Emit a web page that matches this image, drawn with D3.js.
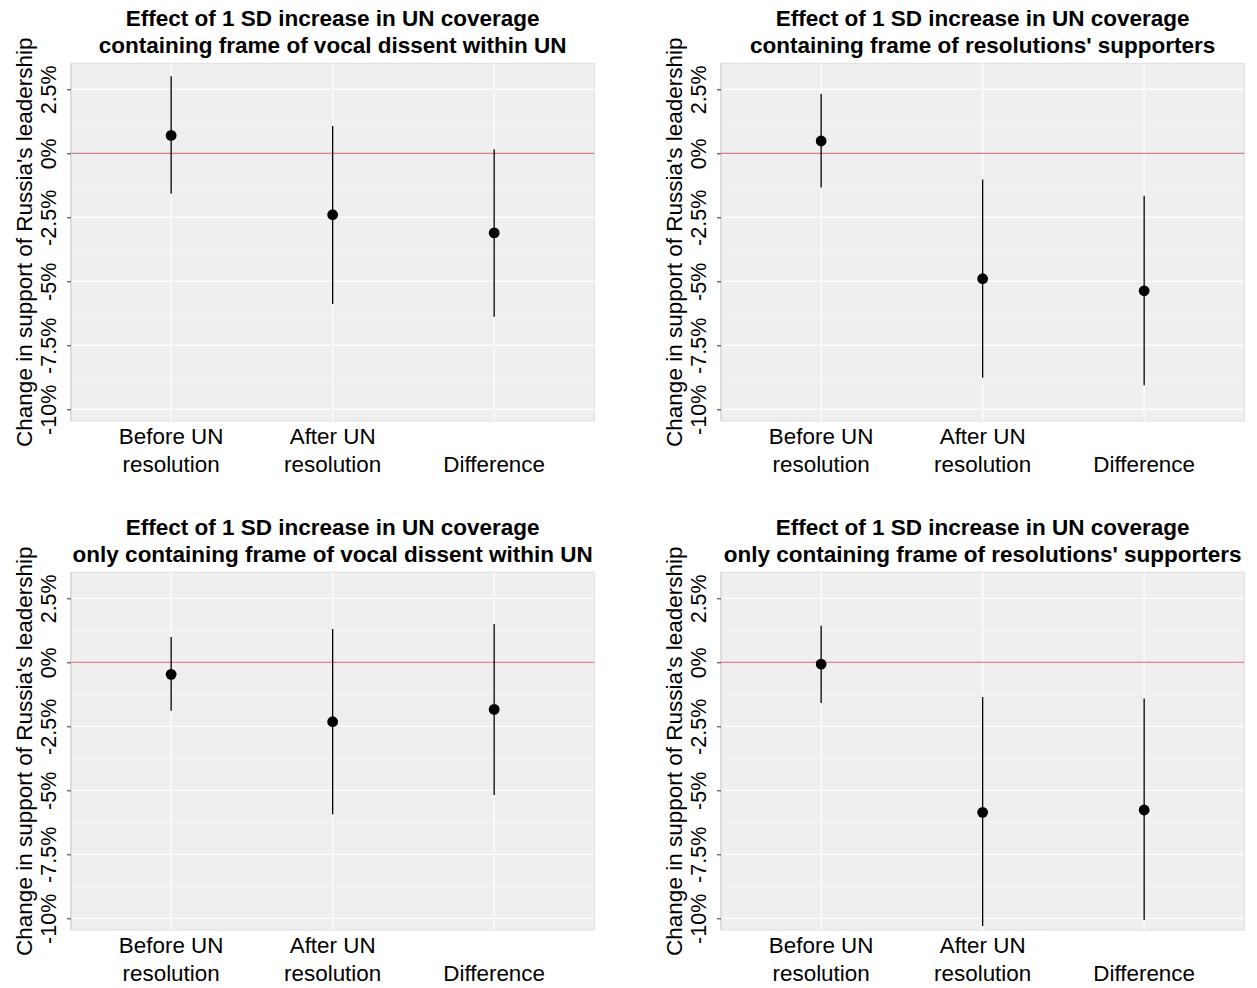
<!DOCTYPE html>
<html>
<head>
<meta charset="utf-8">
<script src="https://cdn.jsdelivr.net/npm/d3@7"></script>
<style>
  body { margin: 0; background: #fff; }
  text { font-family: "Liberation Sans", Arial, sans-serif; fill: #000; }
</style>
</head>
<body>
<div id="chart"></div>
<script>
// categories on the x axis (each split in display lines)
var categories = ["Before UN resolution", "After UN resolution", "Difference"];
var categoryLines = [["Before UN", "resolution"], ["After UN", "resolution"], ["", "Difference"]];

var titles = [
    ["Effect of 1 SD increase in UN coverage", "containing frame of vocal dissent within UN"],
    ["Effect of 1 SD increase in UN coverage", "containing frame of resolutions' supporters"],
    ["Effect of 1 SD increase in UN coverage", "only containing frame of vocal dissent within UN"],
    ["Effect of 1 SD increase in UN coverage", "only containing frame of resolutions' supporters"]
];

// point estimates and confidence bounds (percent), one row per panel
var estimates = [
    [0.70, -2.40, -3.11],
    [0.48, -4.90, -5.37],
    [-0.47, -2.32, -1.84],
    [-0.07, -5.86, -5.77]
];
var lower = [
    [-1.58, -5.89, -6.38],
    [-1.34, -8.77, -9.06],
    [-1.89, -5.94, -5.18],
    [-1.59, -10.30, -10.07]
];
var upper = [
    [3.01, 1.07, 0.16],
    [2.32, -1.02, -1.66],
    [0.99, 1.30, 1.50],
    [1.43, -1.36, -1.41]
];

var yTicks = [2.5, 0, -2.5, -5, -7.5, -10];
var yMinor = [1.25, -1.25, -3.75, -6.25, -8.75];
var yLabel = "Change in support of Russia's leadership";

var width = 1257, height = 988;
var panelW = 523.3, panelH = 357.7;
var lefts = [71, 721], tops = [63.3, 572.3];
var zeroColors = ["#c4615f", "#e05f5f"];

var svg = d3.select("#chart").append("svg")
    .attr("width", width)
    .attr("height", height);

var x = d3.scalePoint().domain(categories).range([0, panelW]).padding(0.62);
var y = d3.scaleLinear().domain([-10.457, 3.516]).range([panelH, 0]);

titles.forEach(function (title, i) {
    var col = i % 2, row = Math.floor(i / 2);
    var g = svg.append("g")
        .attr("transform", "translate(" + lefts[col] + "," + tops[row] + ")");

    // panel background
    g.append("rect")
        .attr("width", panelW)
        .attr("height", panelH)
        .style("fill", "#efefef")
        .style("stroke", "#dedede")
        .style("stroke-width", 1);

    // minor grid
    g.selectAll(".minor").data(yMinor).enter().append("line")
        .attr("x1", 0).attr("x2", panelW)
        .attr("y1", function (d) { return y(d); })
        .attr("y2", function (d) { return y(d); })
        .style("stroke", "#f9f9f9")
        .style("stroke-width", 0.8);

    // major grid
    g.selectAll(".major").data(yTicks).enter().append("line")
        .attr("x1", 0).attr("x2", panelW)
        .attr("y1", function (d) { return y(d); })
        .attr("y2", function (d) { return y(d); })
        .style("stroke", "#ffffff")
        .style("stroke-width", 1.2);

    g.selectAll(".vgrid").data(categories).enter().append("line")
        .attr("x1", function (d) { return x(d); })
        .attr("x2", function (d) { return x(d); })
        .attr("y1", 0).attr("y2", panelH)
        .style("stroke", "#ffffff")
        .style("stroke-width", 1.2);

    // zero reference line
    g.append("line")
        .attr("x1", 0).attr("x2", panelW)
        .attr("y1", y(0)).attr("y2", y(0))
        .style("stroke", zeroColors[row])
        .style("stroke-width", 1.1);

    // y axis
    var yAxis = g.append("g")
        .call(d3.axisLeft(y).tickValues(yTicks).tickSize(4).tickPadding(0).tickFormat(function (d) { return d + "%"; }));
    yAxis.select(".domain").attr("stroke", "#cfcfcf").attr("d", "M0,0V" + panelH);
    yAxis.selectAll(".tick line").attr("stroke", "#333");
    yAxis.selectAll(".tick text")
        .attr("x", 0).attr("y", 0).attr("dy", null)
        .attr("transform", "translate(-15,0) rotate(-90)")
        .attr("text-anchor", "middle")
        .style("font-size", "21.5px")
        .style("font-family", "'Liberation Sans', Arial, sans-serif")
        .style("fill", "#000");

    // y axis title
    g.append("text")
        .attr("transform", "translate(-39," + (panelH / 2) + ") rotate(-90)")
        .attr("text-anchor", "middle")
        .style("font-size", "22.5px")
        .text(yLabel);

    // x axis labels
    categories.forEach(function (c, k) {
        categoryLines[k].forEach(function (line, j) {
            g.append("text")
                .attr("x", x(c))
                .attr("y", panelH + 23 + j * 27.7)
                .attr("text-anchor", "middle")
                .style("font-size", "22.4px")
                .text(line);
        });
    });

    // title
    title.forEach(function (line, j) {
        g.append("text")
            .attr("x", panelW / 2)
            .attr("y", -37.3 + j * 26.7)
            .attr("text-anchor", "middle")
            .style("font-size", "22.5px")
            .style("font-weight", "bold")
            .text(line);
    });

    // error bars
    g.selectAll(".bar").data(categories).enter().append("line")
        .attr("x1", function (d) { return x(d); })
        .attr("x2", function (d) { return x(d); })
        .attr("y1", function (d, k) { return y(lower[i][k]); })
        .attr("y2", function (d, k) { return y(upper[i][k]); })
        .style("stroke", "#000")
        .style("stroke-width", 1.3);

    // points
    g.selectAll(".pt").data(categories).enter().append("circle")
        .attr("cx", function (d) { return x(d); })
        .attr("cy", function (d, k) { return y(estimates[i][k]); })
        .attr("r", 5.4)
        .style("fill", "#000");
});
</script>
</body>
</html>
